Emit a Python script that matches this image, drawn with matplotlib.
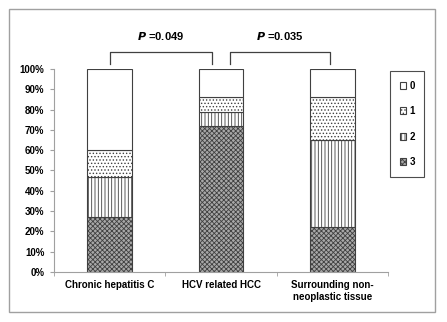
import matplotlib.pyplot as plt
from matplotlib.patches import Rectangle

# Data: percent of each grade per tissue group
categories = ['Chronic hepatitis C', 'HCV related HCC', 'Surrounding non-\nneoplastic tissue']
grades = ['3', '2', '1', '0']
grade3 = [27, 72, 22]
grade2 = [20, 7, 43]
grade1 = [13, 7, 21]
grade0 = [40, 14, 14]
p_labels = ['0.049', '0.035']

plt.rcParams['font.family'] = ['Liberation Sans', 'DejaVu Sans']
plt.rcParams['font.weight'] = 'bold'
plt.rcParams['hatch.linewidth'] = 0.6

fig = plt.figure(figsize=(4.47, 3.22), dpi=100)
ax = fig.add_axes([0.121, 0.155, 0.747, 0.631])

styles = {
    '3': dict(facecolor='#a8a8a8', hatch='xxxxxxx'),
    '2': dict(facecolor='white', hatch='|||||'),
    '1': dict(facecolor='white', hatch='.....'),
    '0': dict(facecolor='white', hatch=''),
}
series = {'3': grade3, '2': grade2, '1': grade1, '0': grade0}

x = list(range(len(categories)))
bottom = [0] * len(categories)
handles = {}
for g in grades:
    vals = series[g]
    b = ax.bar(x, vals, 0.4, bottom=bottom, edgecolor='#404040', linewidth=0.8,
               label=g, **styles[g])
    handles[g] = b
    bottom = [bo + v for bo, v in zip(bottom, vals)]

ax.set_xlim(-0.5, 2.5)
ax.set_ylim(0, 100)
ax.set_yticks(range(0, 101, 10))
ax.set_yticklabels([f'{v}%' for v in range(0, 101, 10)], fontsize=7, fontweight='bold')
ax.set_xticks(x)
ax.set_xticklabels(categories, fontsize=7, fontweight='bold')
ax.set_xticks([-0.5, 0.5, 1.5, 2.5], minor=True)
ax.tick_params(axis='x', which='major', length=0, pad=6)
ax.tick_params(axis='x', which='minor', length=3, color='#a0a0a0', direction='out')
ax.tick_params(axis='y', length=3, color='#a0a0a0', pad=4)
for s in ['top', 'right']:
    ax.spines[s].set_visible(False)
for s in ['left', 'bottom']:
    ax.spines[s].set_color('#a0a0a0')

# significance brackets
brackets = [(0, 0.92), (1.08, 1.98)]
for (x0, x1), p in zip(brackets, p_labels):
    ax.plot([x0, x0, x1, x1], [102.5, 108.5, 108.5, 102.5], color='#404040', lw=0.9,
            clip_on=False)
    ax.text((x0 + x1) / 2, 113, f'$\\bf{{\\it{{P}}}}$ =' + p, ha='center', va='bottom',
            fontsize=8, fontweight='bold')

order = ['0', '1', '2', '3']
leg = ax.legend([handles[g] for g in order], order, loc='upper left',
                bbox_to_anchor=(0.872, 0.78), bbox_transform=fig.transFigure,
                fontsize=7, frameon=True, fancybox=False, edgecolor='#202020',
                labelspacing=1.6, handlelength=0.7, handleheight=0.7,
                handletextpad=0.3, borderpad=1.0, borderaxespad=0)
leg.get_frame().set_linewidth(0.8)

fig.patches.append(Rectangle((9 / 447, 10 / 322), 426 / 447, 303 / 322,
                             transform=fig.transFigure, fill=False,
                             edgecolor='#a0a0a0', linewidth=1.0))

fig.savefig('out.png', dpi=100)
